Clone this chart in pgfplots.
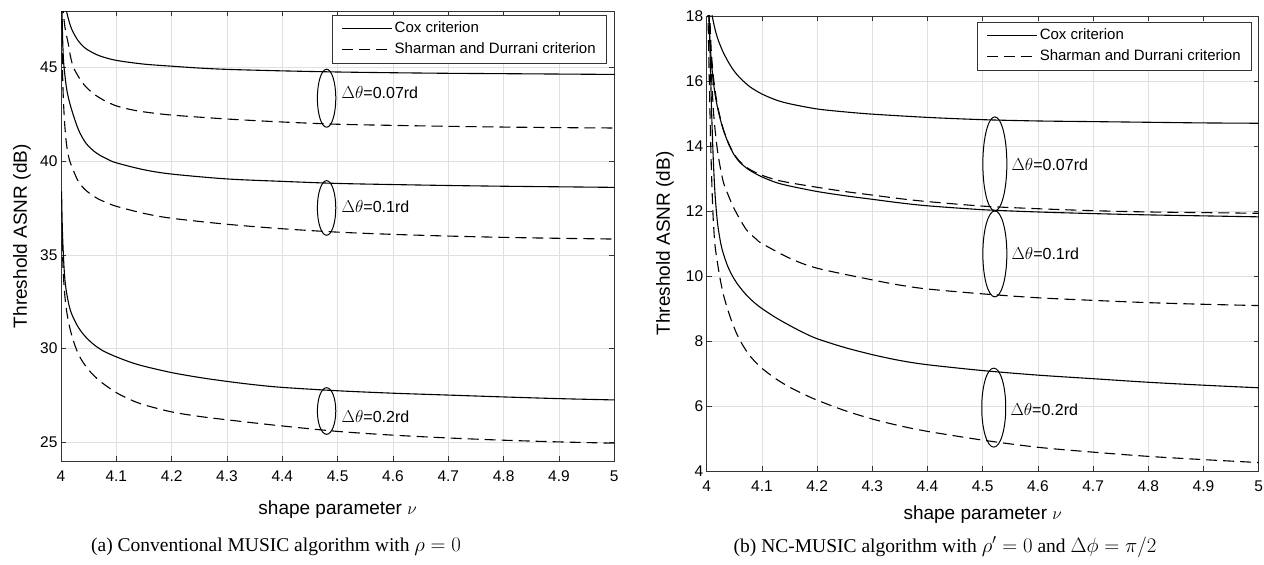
\documentclass[border=0pt]{standalone}
\usepackage{pgfplots}
\pgfplotsset{compat=1.18}
\usepackage{fontspec}
\setmainfont{Liberation Sans}
\newfontfamily\capfont{Liberation Serif}
\begin{document}
\begin{tikzpicture}
\useasboundingbox (0,0) rectangle (1264pt,565pt);
\pgfplotsset{
 mystyle/.style={
  scale only axis, anchor=south west,
  xmin=4, xmax=5,
  xtick={4,4.1,4.2,4.3,4.4,4.5,4.6,4.7,4.8,4.9,5},
  xticklabels={4,4.1,4.2,4.3,4.4,4.5,4.6,4.7,4.8,4.9,5},
  grid=major, major grid style={black!12, line width=0.7pt},
  tick align=inside, major tick length=5pt,
  axis line style={black!80, line width=0.8pt},
  every tick/.style={black!80, line width=0.8pt},
  ticklabel style={font=\fontsize{15.5}{18}\selectfont},
  /pgf/number format/assume math mode=true,
  xticklabel shift=6pt,
  label style={font=\fontsize{19}{22}\selectfont},
  xlabel={shape parameter $\nu$},
  ylabel={Threshold ASNR (dB)},
  legend cell align=left,
  legend image code/.code={\draw[##1] (0pt,0pt) -- (50pt,0pt);},
  legend style={font=\fontsize{15}{18}\selectfont, anchor=north east, draw=black!80, line width=0.7pt,
     inner xsep=9pt, inner ysep=3pt, row sep=0pt,
     nodes={text height=11pt, text depth=3pt, inner ysep=3.5pt}},
  every axis plot/.append style={black, line width=1.1pt, smooth, no marks},
  cox/.style={solid},
  sd/.style={dash pattern=on 11pt off 6pt},
 }
}
% ---------------- (a) ----------------
\begin{axis}[mystyle,
  at={(61pt,104pt)}, width=553.3pt, height=449.5pt,
  ymin=24, ymax=48, ytick={25,30,35,40,45},
  xlabel style={at={(axis description cs:0.5,-0.107)}, anchor=center},
  ylabel style={at={(axis description cs:-0.0705,0.5)}, anchor=center},
  legend style={at={(axis description cs:0.9868,0.9922)}},
]
\addplot[cox] table {
4.0095 48.5
4.010 48.03
4.015 47.43
4.020 47.01
4.030 46.48
4.040 46.14
4.050 45.92
4.070 45.63
4.100 45.39
4.150 45.19
4.200 45.08
4.250 44.98
4.300 44.91
4.400 44.83
4.500 44.77
4.600 44.73
4.700 44.70
4.800 44.68
4.900 44.66
5.000 44.64
};
\addlegendentry{Cox criterion}
\addplot[sd] table {
4.003 48.5
4.005 47.7
4.008 47.0
4.013 46.3
4.017 45.62
4.022 45.05
4.030 44.6
4.037 44.27
4.045 43.98
4.055 43.7
4.065 43.48
4.080 43.22
4.100 42.96
4.125 42.77
4.150 42.64
4.200 42.47
4.300 42.26
4.400 42.10
4.500 41.98
4.600 41.92
4.700 41.87
4.800 41.83
4.900 41.80
5.000 41.78
};
\addlegendentry{Sharman and Durrani criterion}
\addplot[cox] table {
4.0015 48.5
4.003 46.5
4.005 45.2
4.010 43.9
4.015 43.2
4.019 42.78
4.025 42.22
4.030 41.8
4.035 41.47
4.042 41.1
4.049 40.83
4.060 40.53
4.070 40.33
4.085 40.1
4.100 39.92
4.150 39.55
4.200 39.32
4.300 39.06
4.400 38.93
4.500 38.82
4.600 38.76
4.700 38.71
4.800 38.67
4.900 38.64
5.000 38.61
};
\addplot[sd] table {
4.0012 48.5
4.003 44.5
4.006 42.3
4.010 40.9
4.015 40.1
4.022 39.54
4.030 39.0
4.037 38.7
4.045 38.45
4.055 38.22
4.065 38.03
4.080 37.82
4.100 37.6
4.150 37.22
4.200 36.96
4.300 36.64
4.400 36.40
4.500 36.22
4.600 36.10
4.700 36.01
4.800 35.94
4.900 35.89
5.000 35.85
};
\addplot[cox] table {
4.001 38.4
4.002 36.9
4.003 35.9
4.005 34.6
4.007 33.7
4.010 33.0
4.015 32.25
4.020 31.8
4.030 31.2
4.040 30.78
4.050 30.46
4.060 30.2
4.070 29.99
4.080 29.82
4.100 29.56
4.125 29.28
4.150 29.06
4.200 28.72
4.250 28.46
4.300 28.25
4.350 28.07
4.400 27.93
4.500 27.75
4.600 27.62
4.700 27.52
4.800 27.42
4.900 27.33
5.000 27.26
};
\addplot[sd] table {
4.002 35.8
4.004 34.1
4.007 32.8
4.011 31.85
4.016 31.1
4.022 30.45
4.028 29.95
4.037 29.4
4.049 28.9
4.060 28.55
4.074 28.18
4.100 27.65
4.125 27.28
4.150 27.0
4.200 26.62
4.250 26.38
4.300 26.2
4.350 26.03
4.400 25.87
4.500 25.58
4.600 25.38
4.700 25.23
4.800 25.11
4.900 25.02
5.000 24.95
};
\draw[line width=1pt] (axis cs:4.48,43.37) ellipse [x radius=9.2pt, y radius=29pt];
\draw[line width=1pt] (axis cs:4.48,37.51) ellipse [x radius=9.2pt, y radius=27.3pt];
\draw[line width=1pt] (axis cs:4.48,26.67) ellipse [x radius=9.2pt, y radius=23.3pt];
\node[anchor=west, inner sep=0pt, font=\fontsize{16}{19}\selectfont] at (axis cs:4.507,43.65) {$\Delta\theta$=0.07rd};
\node[anchor=west, inner sep=0pt, font=\fontsize{16}{19}\selectfont] at (axis cs:4.507,37.58) {$\Delta\theta$=0.1rd};
\node[anchor=west, inner sep=0pt, font=\fontsize{16}{19}\selectfont] at (axis cs:4.507,26.37) {$\Delta\theta$=0.2rd};
\end{axis}
% ---------------- (b) ----------------
\begin{axis}[mystyle,
  at={(706.7pt,94pt)}, width=552pt, height=455pt,
  ymin=4, ymax=18, ytick={4,6,8,10,12,14,16,18},
  xlabel style={at={(axis description cs:0.5,-0.0967)}, anchor=center},
  ylabel style={at={(axis description cs:-0.0755,0.5)}, anchor=center},
  legend style={at={(axis description cs:0.9879,0.9868)}},
]
\addplot[cox] table {
4.008 18.3
4.010 18.0
4.015 17.6
4.020 17.3
4.024 17.12
4.030 16.88
4.040 16.56
4.050 16.3
4.060 16.1
4.070 15.94
4.080 15.8
4.100 15.6
4.125 15.42
4.150 15.3
4.200 15.14
4.250 15.05
4.300 14.98
4.400 14.88
4.500 14.81
4.600 14.77
4.700 14.75
4.800 14.73
4.900 14.71
5.000 14.70
};
\addlegendentry{Cox criterion}
\addplot[sd] table {
4.005 18.3
4.008 17.0
4.012 16.15
4.017 15.5
4.022 15.05
4.030 14.52
4.040 14.07
4.050 13.74
4.060 13.52
4.070 13.37
4.080 13.26
4.100 13.1
4.125 12.96
4.150 12.87
4.200 12.73
4.250 12.6
4.300 12.49
4.350 12.38
4.400 12.29
4.500 12.15
4.600 12.07
4.700 12.01
4.800 11.97
4.900 11.95
5.000 11.93
};
\addlegendentry{Sharman and Durrani criterion}
\addplot[cox] table {
4.003 18.3
4.006 17.2
4.010 16.3
4.015 15.6
4.020 15.15
4.025 14.8
4.030 14.5
4.040 14.05
4.050 13.72
4.060 13.5
4.070 13.35
4.080 13.23
4.100 13.05
4.125 12.88
4.150 12.77
4.200 12.6
4.250 12.47
4.300 12.36
4.350 12.25
4.400 12.16
4.500 12.04
4.600 11.97
4.700 11.92
4.800 11.88
4.900 11.85
5.000 11.82
};
\addplot[sd] table {
4.004 18.3
4.006 17.5
4.009 16.1
4.013 14.9
4.020 13.8
4.030 12.9
4.040 12.45
4.048 12.13
4.060 11.75
4.072 11.42
4.080 11.28
4.090 11.13
4.100 11.0
4.150 10.55
4.200 10.24
4.300 9.88
4.350 9.72
4.400 9.60
4.500 9.45
4.600 9.33
4.700 9.25
4.800 9.18
4.900 9.13
5.000 9.09
};
\addplot[cox] table {
4.004 18.3
4.006 16.9
4.009 15.0
4.012 13.55
4.015 12.55
4.018 11.9
4.021 11.45
4.027 10.88
4.036 10.39
4.045 10.05
4.055 9.77
4.065 9.55
4.075 9.36
4.085 9.2
4.100 9.0
4.125 8.72
4.150 8.48
4.175 8.26
4.200 8.07
4.250 7.8
4.300 7.58
4.350 7.4
4.400 7.27
4.500 7.09
4.600 6.95
4.700 6.84
4.800 6.73
4.900 6.64
5.000 6.56
};
\addplot[sd] table {
4.002 18.3
4.004 16.6
4.006 15.0
4.008 13.6
4.010 12.5
4.012 11.7
4.015 10.95
4.020 10.35
4.025 9.85
4.030 9.45
4.036 9.08
4.045 8.62
4.055 8.2
4.065 7.88
4.075 7.62
4.085 7.41
4.100 7.16
4.125 6.84
4.150 6.58
4.175 6.37
4.200 6.18
4.250 5.86
4.300 5.6
4.350 5.39
4.400 5.22
4.500 4.95
4.600 4.73
4.700 4.58
4.800 4.45
4.900 4.35
5.000 4.26
};
\draw[line width=1pt] (axis cs:4.522,13.45) ellipse [x radius=12pt, y radius=47pt];
\draw[line width=1pt] (axis cs:4.522,10.68) ellipse [x radius=12pt, y radius=43pt];
\draw[line width=1pt] (axis cs:4.52,5.95) ellipse [x radius=12pt, y radius=39.5pt];
\node[anchor=west, inner sep=0pt, font=\fontsize{16}{19}\selectfont] at (axis cs:4.552,13.42) {$\Delta\theta$=0.07rd};
\node[anchor=west, inner sep=0pt, font=\fontsize{16}{19}\selectfont] at (axis cs:4.552,10.7) {$\Delta\theta$=0.1rd};
\node[anchor=west, inner sep=0pt, font=\fontsize{16}{19}\selectfont] at (axis cs:4.55,5.88) {$\Delta\theta$=0.2rd};
\end{axis}
\node[font=\capfont\fontsize{19.5}{22}\selectfont] at (276pt,18pt) {(a) Conventional MUSIC algorithm with $\rho = 0$};
\node[font=\capfont\fontsize{19.5}{22}\selectfont] at (945pt,18pt) {(b) NC-MUSIC algorithm with $\rho' = 0$ and $\Delta\phi = \pi/2$};
\end{tikzpicture}
\end{document}
